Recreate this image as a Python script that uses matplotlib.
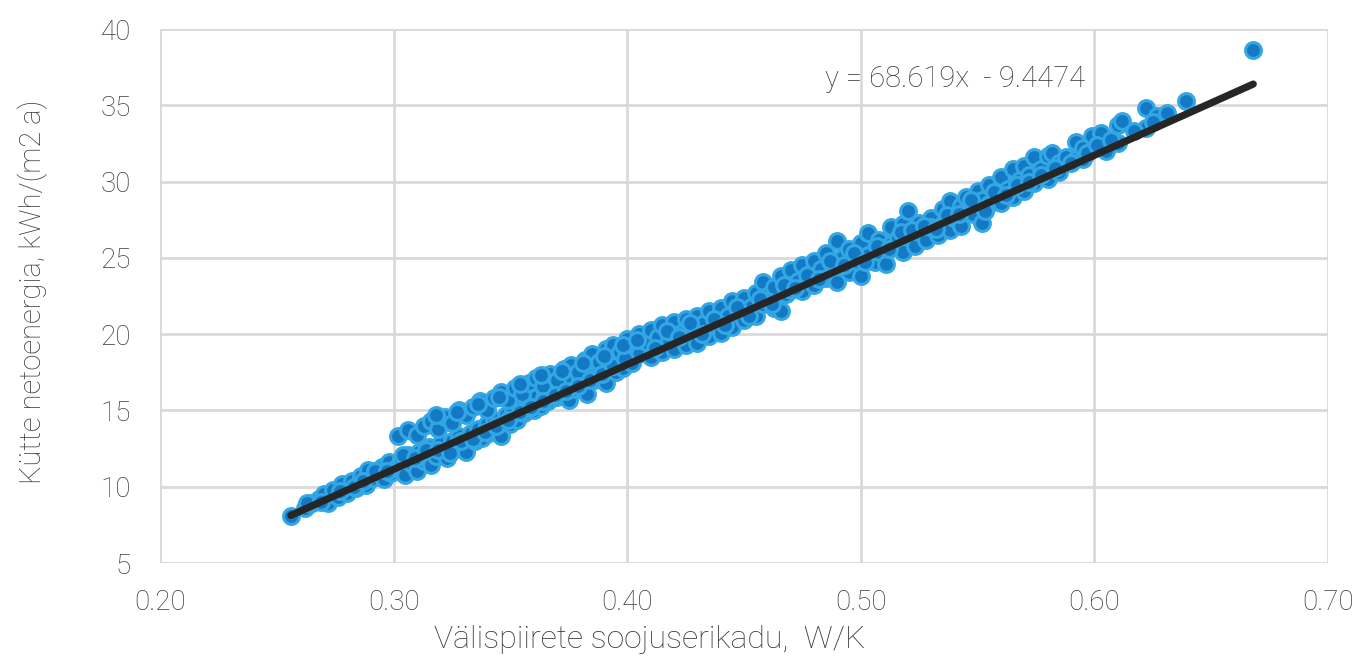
import matplotlib
matplotlib.use("Agg")
import matplotlib.pyplot as plt
import numpy as np

plt.rcParams['font.family'] = ['Roboto', 'DejaVu Sans']

# Scatter data
x_vals = [
    0.256, 0.262, 0.265, 0.268, 0.270, 0.272, 0.274, 0.276, 0.278, 0.280,
    0.282, 0.284, 0.286, 0.288, 0.289, 0.291, 0.293, 0.295, 0.296, 0.298, 0.299,
    # lower band 0.30-0.40
    0.301, 0.303, 0.305, 0.306, 0.308, 0.310, 0.311, 0.313, 0.315, 0.316,
    0.318, 0.320, 0.321, 0.323, 0.325, 0.326, 0.328, 0.330, 0.331, 0.333,
    0.335, 0.336, 0.338, 0.340, 0.341, 0.343, 0.345, 0.346, 0.348, 0.350,
    0.351, 0.353, 0.355, 0.356, 0.358, 0.360, 0.361, 0.363, 0.365, 0.366,
    0.368, 0.370, 0.371, 0.373, 0.375, 0.376, 0.378, 0.380, 0.381, 0.383,
    0.385, 0.386, 0.388, 0.390, 0.391, 0.393, 0.395, 0.396, 0.398,
    # upper band 0.30-0.40
    0.302, 0.306, 0.310, 0.313, 0.316, 0.319, 0.322, 0.325, 0.328, 0.331,
    0.334, 0.337, 0.340, 0.343, 0.346, 0.349, 0.352, 0.355, 0.358, 0.361,
    0.364, 0.367, 0.370, 0.373, 0.376, 0.379, 0.382, 0.385, 0.388, 0.391,
    0.394, 0.397, 0.400,
    # single band 0.40-0.67
    0.402, 0.402, 0.405, 0.405, 0.408, 0.410, 0.410, 0.413, 0.415, 0.415,
    0.418, 0.420, 0.420, 0.423, 0.425, 0.425, 0.428, 0.430, 0.430, 0.433,
    0.435, 0.435, 0.438, 0.440, 0.440, 0.443, 0.445, 0.445, 0.448, 0.450,
    0.450, 0.453, 0.455, 0.455, 0.458, 0.458, 0.460, 0.463, 0.463, 0.466,
    0.466, 0.468, 0.470, 0.470, 0.473, 0.475, 0.475, 0.478, 0.480, 0.480,
    0.483, 0.485, 0.485, 0.488, 0.490, 0.490, 0.492, 0.495, 0.495, 0.498,
    0.500, 0.500, 0.503, 0.503, 0.506, 0.508, 0.508, 0.511, 0.513, 0.513,
    0.516, 0.518, 0.518, 0.520, 0.520, 0.523, 0.525, 0.525, 0.528, 0.530,
    0.530, 0.533, 0.535, 0.535, 0.538, 0.538, 0.540, 0.543, 0.543, 0.545,
    0.548, 0.548, 0.550, 0.552, 0.552, 0.555, 0.555, 0.558, 0.560, 0.560,
    0.563, 0.565, 0.565, 0.568, 0.570, 0.570, 0.572, 0.574, 0.574, 0.577,
    0.580, 0.580, 0.582, 0.585, 0.585, 0.588, 0.592, 0.592, 0.595, 0.595,
    0.599, 0.603, 0.605, 0.610, 0.610, 0.612, 0.622, 0.622, 0.627, 0.631,
    0.639, 0.668,
]
y_vals = [
    8.1, 8.6, 8.9, 9.2, 9.5, 8.9, 9.8, 9.3, 10.2, 9.6,
    10.4, 9.9, 10.7, 10.1, 11.1, 10.6, 10.9, 11.3, 10.5, 11.6, 10.9,
    # lower band
    11.2, 11.8, 10.8, 12.1, 11.5, 11.0, 12.3, 11.7, 12.6, 11.4,
    12.0, 12.8, 12.3, 11.9, 13.0, 12.5, 13.3, 12.8, 12.3, 13.5,
    13.0, 13.8, 13.2, 14.1, 13.5, 14.4, 13.9, 13.3, 14.7, 14.1,
    15.0, 14.4, 15.3, 14.8, 15.6, 15.0, 15.9, 15.3, 16.2, 15.6,
    16.5, 15.9, 16.8, 16.2, 15.7, 16.9, 16.4, 17.2, 16.7, 16.1,
    17.5, 17.0, 17.8, 17.3, 16.8, 18.0, 17.5, 18.3, 17.8,
    # upper band
    13.3, 13.7, 13.4, 14.0, 14.3, 13.8, 14.6, 14.2, 15.0, 14.7,
    15.2, 15.6, 15.0, 15.8, 16.2, 15.7, 16.5, 16.1, 16.8, 17.1,
    16.6, 17.4, 17.0, 17.7, 18.0, 17.5, 18.3, 18.7, 18.2, 19.0,
    19.3, 18.8, 19.7,
    # single band
    19.2, 18.1, 20.0, 18.7, 19.5, 20.3, 18.5, 19.8, 20.6, 18.8,
    19.6, 20.8, 19.0, 20.1, 21.0, 19.3, 20.4, 21.2, 19.4, 20.7,
    21.5, 19.9, 20.9, 21.7, 20.1, 21.2, 22.2, 20.5, 21.5, 22.4,
    20.9, 21.8, 22.7, 21.2, 23.4, 22.0, 22.5, 23.1, 21.7, 21.5,
    23.8, 22.6, 24.2, 22.9, 23.5, 24.5, 22.8, 23.8, 24.8, 23.2,
    24.3, 25.3, 23.7, 24.6, 26.1, 23.4, 25.0, 25.6, 24.1, 24.8,
    26.0, 23.8, 26.6, 25.2, 24.7, 26.2, 25.4, 24.6, 27.0, 25.9,
    26.3, 27.2, 25.4, 28.1, 26.5, 25.8, 27.3, 26.7, 26.2, 27.6,
    27.0, 26.5, 28.2, 27.2, 28.7, 26.8, 27.6, 28.4, 27.1, 29.0,
    28.3, 27.9, 29.4, 27.3, 28.8, 29.8, 28.5, 29.0, 30.3, 28.6,
    29.5, 30.8, 29.0, 30.1, 31.0, 29.4, 30.4, 31.6, 29.9, 30.8,
    31.7, 30.2, 31.9, 31.2, 30.6, 31.6, 32.6, 31.5, 31.5, 32.2,
    33.0, 33.2, 32.0, 32.5, 33.7, 34.0, 34.8, 33.5, 34.3, 34.5,
    35.3, 38.6,
]

# Further points filling the dense cloud
x_vals_2 = [
    0.263, 0.269, 0.277, 0.283, 0.287, 0.292, 0.297,
    0.304, 0.309, 0.314, 0.319, 0.324, 0.329, 0.334, 0.339, 0.344, 0.349,
    0.354, 0.359, 0.364, 0.369, 0.374, 0.379, 0.384, 0.389, 0.394, 0.399,
    0.318, 0.327, 0.336, 0.345, 0.354, 0.363, 0.372, 0.381, 0.390, 0.398,
    0.404, 0.412, 0.417, 0.422, 0.427, 0.432, 0.437, 0.442, 0.447, 0.452,
    0.457, 0.462, 0.467, 0.472, 0.477, 0.482, 0.487, 0.493, 0.497, 0.502,
    0.507, 0.512, 0.517, 0.522, 0.527, 0.532, 0.537, 0.542, 0.547, 0.553,
    0.557, 0.562, 0.567, 0.572, 0.577, 0.583, 0.590, 0.597, 0.601, 0.607,
    0.617, 0.625,
]
y_vals_2 = [
    8.9, 9.0, 9.7, 10.0, 10.4, 11.0, 11.0,
    12.1, 11.9, 12.4, 12.4, 12.2, 13.0, 13.1, 13.6, 14.0, 14.4,
    14.9, 15.2, 15.6, 16.0, 16.3, 16.6, 17.0, 17.4, 17.9, 18.4,
    14.7, 14.9, 15.4, 15.9, 16.7, 17.3, 17.6, 18.1, 18.6, 19.3,
    19.6, 19.1, 20.2, 19.8, 20.7, 20.0, 21.0, 20.6, 21.8, 21.2,
    22.3, 22.0, 23.2, 23.0, 23.9, 23.6, 24.8, 24.5, 25.3, 24.7,
    25.8, 25.6, 26.7, 26.8, 27.1, 26.9, 27.8, 27.9, 28.8, 28.1,
    29.3, 29.1, 29.8, 30.0, 30.4, 30.9, 31.2, 31.9, 32.4, 32.7,
    33.3, 33.9,
]

# Trendline shown on the chart
slope = 68.619
intercept = -9.4474
equation_text = "y = 68.619x  - 9.4474"

x_label = "Välispiirete soojuserikadu,  W/K"
y_label = "Kütte netoenergia, kWh/(m2 a)"
x_ticks = [0.20, 0.30, 0.40, 0.50, 0.60, 0.70]
y_ticks = [5, 10, 15, 20, 25, 30, 35, 40]

TEXT = '#3a3a3a'

fig = plt.figure(figsize=(13.62, 6.64), dpi=100)
ax = fig.add_axes([160/1362, 1 - 563/664, (1328-160)/1362, (563-29)/664])

ax.set_xlim(0.20, 0.70)
ax.set_ylim(5, 40)
ax.set_xticks(x_ticks)
ax.set_yticks(y_ticks)
ax.set_xticklabels([f"{t:.2f}" for t in x_ticks])
ax.set_yticklabels([str(t) for t in y_ticks])

for s in ax.spines.values():
    s.set_visible(False)
ax.grid(True, color='#d9d9d9', linewidth=2.0, zorder=0)
ax.set_axisbelow(True)
ax.tick_params(length=0, labelsize=20, labelcolor=TEXT)
ax.tick_params(axis='y', pad=21)
ax.tick_params(axis='x', pad=19)
for lab in ax.get_xticklabels() + ax.get_yticklabels():
    lab.set_fontweight('light')

xs = np.array(x_vals + x_vals_2)
ys = np.array(y_vals + y_vals_2)
ax.scatter(xs, ys, s=130, facecolor='#1479c4', edgecolor='#33a7e3',
           linewidth=2.2, zorder=3, clip_on=False)

xl = np.array([xs.min(), xs.max()])
ax.plot(xl, slope * xl + intercept, color='#262626', linewidth=5.2,
        solid_capstyle='round', zorder=4)

ax.text(0.4847, 36.7, equation_text, fontsize=21, color=TEXT,
        ha='left', va='center', fontweight='light', zorder=5)

ax.set_xlabel(x_label, fontsize=23, color=TEXT, fontweight='light')
ax.set_ylabel(y_label, fontsize=21, color=TEXT, fontweight='light')
ax.xaxis.label.set_va('center')
ax.yaxis.label.set_va('center')
ax.xaxis.set_label_coords((650 - 160) / 1168, (563 - 640) / 534)
ax.yaxis.set_label_coords((33 - 160) / 1168, (563 - 292) / 534)

fig.savefig("out.png", dpi=100)
